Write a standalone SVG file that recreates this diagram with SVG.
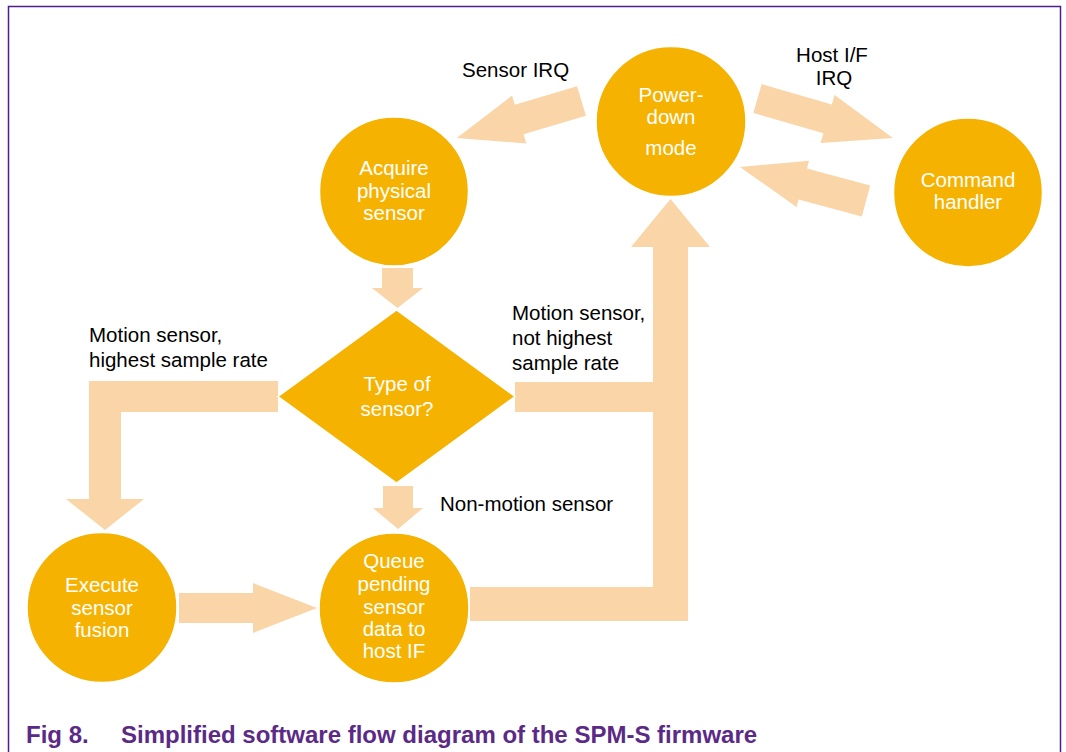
<svg xmlns="http://www.w3.org/2000/svg" width="1066" height="752" viewBox="0 0 1066 752">
  <style>
    .node { fill: #F6B200; stroke: #FFFFFF; stroke-width: 1.5; }
    .flow { fill: #F9D5A7; stroke: none; }
    .ntext { font-family: "Liberation Sans", Arial, sans-serif; font-size: 20.5px; fill: #FFFFFF; text-anchor: middle; }
    .label { font-family: "Liberation Sans", Arial, sans-serif; font-size: 20.5px; fill: #000000; }
    .caption { font-family: "Liberation Sans", Arial, sans-serif; font-size: 24px; font-weight: bold; fill: #5B2A86; }
    .frame { fill: none; stroke: #4E1F8A; stroke-width: 1.5; }
  </style>

  <rect x="0" y="0" width="1066" height="752" fill="#FFFFFF"/>
  <!-- figure frame (open at the bottom) -->
  <path class="frame" d="M8.5,752 V6.5 H1060.5 V752"/>

  <!-- block-arrow connectors -->
  <g id="connectors">
    <!-- Power-down -> Acquire (Sensor IRQ) -->
    <polygon class="flow" points="0,-15.5 65,-15.5 65,-25 130,0 65,25 65,15.5 0,15.5" transform="translate(581.5,101) rotate(163.45)"/>
    <!-- Power-down -> Command handler (Host I/F IRQ) -->
    <polygon class="flow" points="0,-15 73,-15 73,-25 141,0 73,25 73,15 0,15" transform="translate(757.5,98.5) rotate(16.25)"/>
    <!-- Command handler -> Power-down -->
    <polygon class="flow" points="0,-16 65.5,-16 65.5,-24 130.5,0 65.5,24 65.5,16 0,16" transform="translate(866,201) rotate(195.1)"/>
    <!-- Acquire -> Type of sensor -->
    <polygon class="flow" points="382,268 413,268 413,288 423,288 397.5,308 372,288 382,288"/>
    <!-- Type of sensor -> Queue (non-motion) -->
    <polygon class="flow" points="383,486 413,486 413,508 423,508 398,529 373,508 383,508"/>
    <!-- Type of sensor -> Execute sensor fusion -->
    <polygon class="flow" points="278,381 89,381 89,499 66,499 105,530 144,499 121,499 121,412 278,412"/>
    <!-- Execute sensor fusion -> Queue -->
    <polygon class="flow" points="179,593 253,593 253,583 317,608 253,633 253,623 179,623"/>
    <!-- Type of sensor -> Power-down (motion, not highest rate) -->
    <rect class="flow" x="515" y="382" width="140" height="30"/>
    <!-- Queue -> Power-down -->
    <polygon class="flow" points="470,587 653,587 653,247 631,247 670.5,199 710,247 688,247 688,621 470,621"/>
  </g>

  <!-- connector labels -->
  <g id="labels">
    <text class="label" x="462" y="77">Sensor IRQ</text>
    <text class="label" x="832" y="62" text-anchor="middle">Host I/F</text>
    <text class="label" x="834" y="85" text-anchor="middle">IRQ</text>
    <text class="label" x="89" y="342">Motion sensor,</text>
    <text class="label" x="89" y="367">highest sample rate</text>
    <text class="label" x="512" y="320">Motion sensor,</text>
    <text class="label" x="512" y="345">not highest</text>
    <text class="label" x="512" y="370">sample rate</text>
    <text class="label" x="440" y="511">Non-motion sensor</text>
  </g>

  <g id="power-down">
    <circle class="node" cx="671" cy="121.5" r="75"/>
    <text class="ntext" x="671" y="102">Power-</text>
    <text class="ntext" x="671" y="124">down</text>
    <text class="ntext" x="671" y="155">mode</text>
  </g>

  <g id="acquire">
    <circle class="node" cx="394" cy="191.5" r="74.5"/>
    <text class="ntext" x="394" y="175">Acquire</text>
    <text class="ntext" x="394" y="197.5">physical</text>
    <text class="ntext" x="394" y="220">sensor</text>
  </g>

  <g id="command-handler">
    <circle class="node" cx="968" cy="192.5" r="74.5"/>
    <text class="ntext" x="968" y="187">Command</text>
    <text class="ntext" x="968" y="209">handler</text>
  </g>

  <g id="type-of-sensor">
    <polygon class="node" stroke="none" points="396.5,310 515,396.5 396.5,483 278,396.5"/>
    <text class="ntext" x="397" y="391">Type of</text>
    <text class="ntext" x="397" y="416">sensor?</text>
  </g>

  <g id="execute-fusion">
    <circle class="node" cx="102" cy="607.5" r="75"/>
    <text class="ntext" x="102" y="592">Execute</text>
    <text class="ntext" x="102" y="614.5">sensor</text>
    <text class="ntext" x="102" y="637">fusion</text>
  </g>

  <g id="queue">
    <circle class="node" cx="394" cy="608" r="75"/>
    <text class="ntext" x="394" y="568">Queue</text>
    <text class="ntext" x="394" y="591">pending</text>
    <text class="ntext" x="394" y="613.5">sensor</text>
    <text class="ntext" x="394" y="636">data to</text>
    <text class="ntext" x="394" y="658">host IF</text>
  </g>

  <!-- caption -->
  <g id="caption">
    <text class="caption" x="26" y="743">Fig 8.</text>
    <text class="caption" x="121" y="743">Simplified software flow diagram of the SPM-S firmware</text>
  </g>
</svg>
